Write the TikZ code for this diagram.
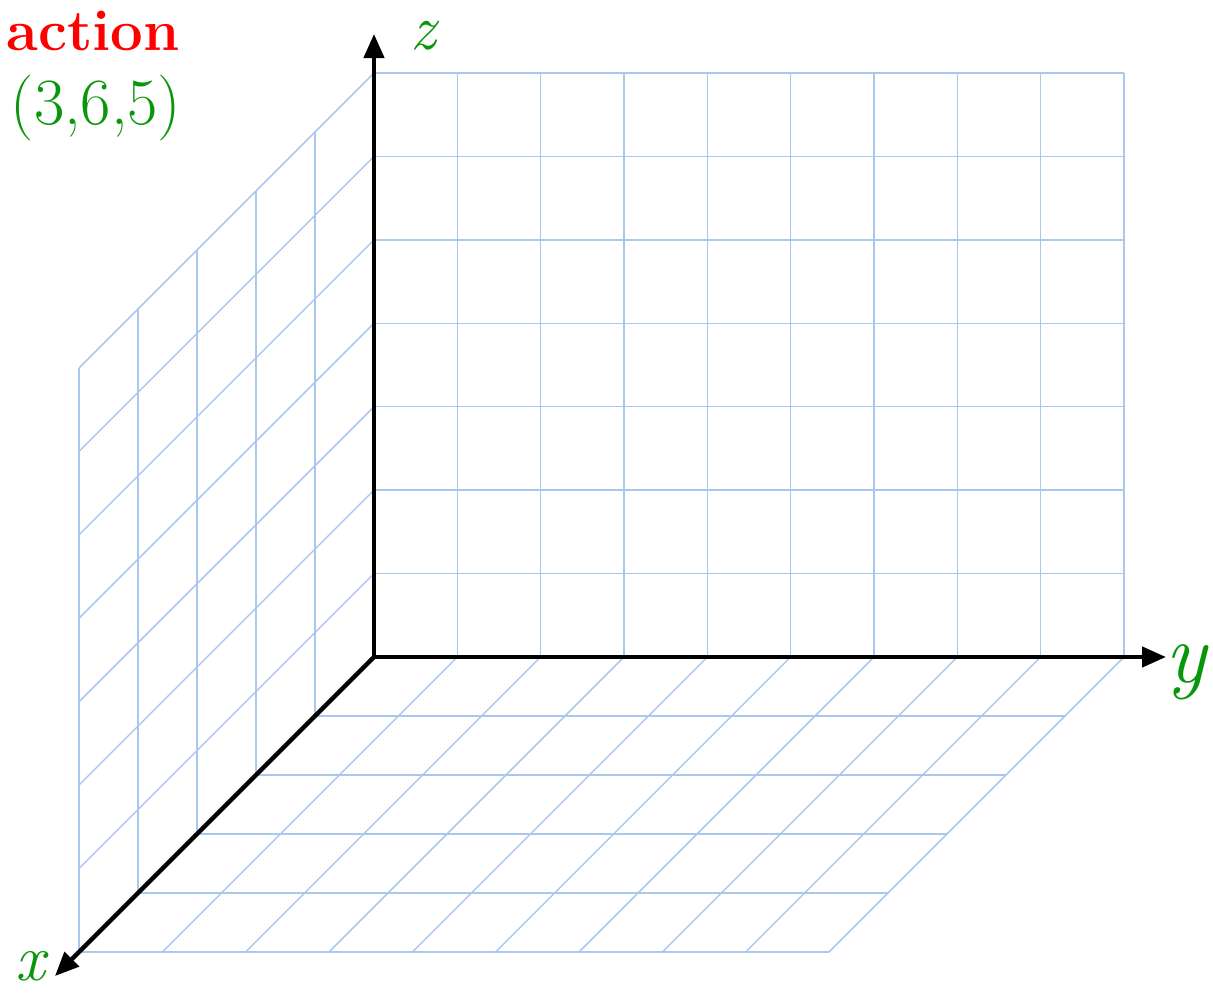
\documentclass[tikz,border=0pt]{standalone}
\usetikzlibrary{arrows.meta}
\definecolor{gridblue}{RGB}{170,200,238}
\definecolor{hand}{RGB}{10,150,10}
\definecolor{titlered}{RGB}{255,0,0}
\begin{document}
\begin{tikzpicture}[x=1pt,y=-1pt,
  gridline/.style={draw=gridblue,line width=1.5pt},
  axis/.style={draw=black,line width=4.4pt,-{Triangle[length=24pt,width=20pt]}},
  handlabel/.style={text=hand,font=\itshape,inner sep=0pt}]
\useasboundingbox (0,0) rectangle (1213,994);
% back wall (yz)
\foreach \i in {0,...,9}{
  \draw[gridline] ({374+83.33*\i},73) -- ({374+83.33*\i},657);
}
\foreach \j in {0,...,7}{
  \draw[gridline] (374,{657-83.43*\j}) -- (1124,{657-83.43*\j});
}
% floor (xy)
\foreach \k in {0,...,5}{
  \draw[gridline] ({374-59*\k},{657+59*\k}) -- ({1124-59*\k},{657+59*\k});
}
\foreach \i in {0,...,9}{
  \draw[gridline] ({374+83.33*\i},657) -- ({79+83.33*\i},952);
}
% left wall (xz)
\foreach \k in {0,...,5}{
  \draw[gridline] ({374-59*\k},{73+59*\k}) -- ({374-59*\k},{657+59*\k});
}
\foreach \j in {0,...,7}{
  \draw[gridline] (374,{657-83.43*\j}) -- (79,{952-83.43*\j});
}
% axes
\coordinate (O) at (374,657);
\coordinate (Z) at (374,34);
\coordinate (Y) at (1166,657);
\coordinate (X) at (55,976);
\draw[axis] (O) -- (Z);
\draw[axis] (O) -- (Y);
\draw[axis] (O) -- (X);
% labels
\node[handlabel,font=\itshape\fontsize{64}{64}\selectfont] (zl) at (423,36) {z};
\node[handlabel,font=\itshape\fontsize{86}{86}\selectfont] (yl) at (1186,672) {y};
\node[handlabel,font=\itshape\fontsize{66}{66}\selectfont] (xl) at (30,966) {x};
\node[handlabel,font=\fontsize{66}{66}\selectfont,anchor=center] (pt) at (96,108) {(3,6,5)};
\node[text=titlered,font=\bfseries\fontsize{58}{58}\selectfont,anchor=base east,inner sep=0pt] (title) at (180,50) {action};
\end{tikzpicture}
\end{document}
